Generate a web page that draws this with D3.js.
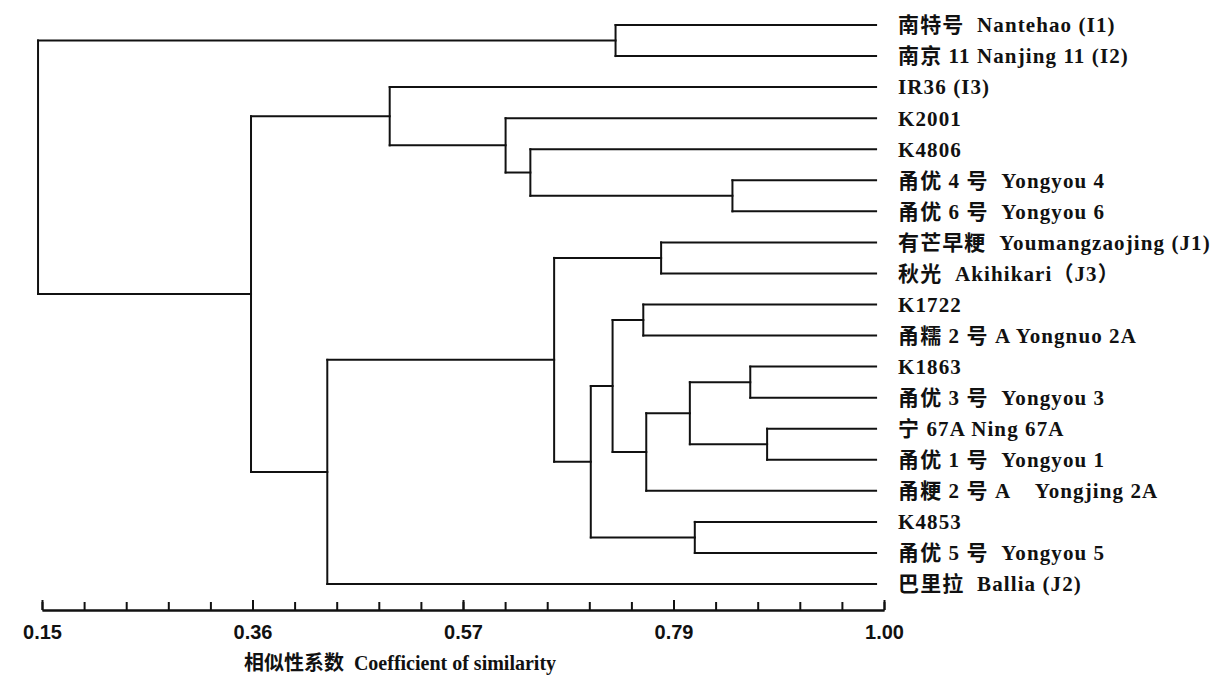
<!DOCTYPE html>
<html>
<head>
<meta charset="utf-8">
<script src="https://cdn.jsdelivr.net/npm/d3@7"></script>
<style>
  body { margin: 0; background: #fff; }
  svg { display: block; }
  .leaf-label { font-family: "Liberation Serif", "Noto Sans CJK SC", serif; font-size: 21px; font-weight: bold; fill: #111; white-space: pre; letter-spacing: 1.1px; }
  .tick text { font-family: "Liberation Sans", Arial, sans-serif; font-size: 20px; font-weight: bold; fill: #111; }
  .title { font-family: "Liberation Serif", "Noto Sans CJK SC", serif; font-size: 20px; font-weight: bold; fill: #111; white-space: pre; }
</style>
</head>
<body>
<div id="chart"></div>
<script>
'use strict'

// leaf labels, top to bottom
var leaves = [
  "南特号  Nantehao (I1)",
  "南京 11 Nanjing 11 (I2)",
  "IR36 (I3)",
  "K2001",
  "K4806",
  "甬优 4 号  Yongyou 4",
  "甬优 6 号  Yongyou 6",
  "有芒早粳  Youmangzaojing (J1)",
  "秋光  Akihikari（J3）",
  "K1722",
  "甬糯 2 号 A Yongnuo 2A",
  "K1863",
  "甬优 3 号  Yongyou 3",
  "宁 67A Ning 67A",
  "甬优 1 号  Yongyou 1",
  "甬粳 2 号 A    Yongjing 2A",
  "K4853",
  "甬优 5 号  Yongyou 5",
  "巴里拉  Ballia (J2)"
];

// merges: [a, b, similarity]. numbers = leaf index, "m#" = earlier merge
var merges = [
  [0, 1, 0.729],          // m0
  [5, 6, 0.847],          // m1
  [4, "m1", 0.643],       // m2
  [3, "m2", 0.618],       // m3
  [2, "m3", 0.501],       // m4
  [7, 8, 0.775],          // m5
  [9, 10, 0.757],         // m6
  [11, 12, 0.865],        // m7
  [13, 14, 0.882],        // m8
  ["m7", "m8", 0.804],    // m9
  ["m9", 15, 0.760],      // m10
  ["m6", "m10", 0.726],   // m11
  [16, 17, 0.809],        // m12
  ["m11", "m12", 0.704],  // m13
  ["m5", "m13", 0.667],   // m14
  ["m14", 18, 0.438],     // m15
  ["m4", "m15", 0.361],   // m16
  ["m0", "m16", 0.146]    // m17 (root)
];

// where leaf branches end
var leafSimilarity = 0.992;

// axis ticks
var majorTicks = [0.15, 0.3625, 0.575, 0.7875, 1.00];
var majorLabels = ["0.15", "0.36", "0.57", "0.79", "1.00"];
var minorTicks = d3.range(0, 21).map(function(i){ return 0.15 + i * 0.0425; });

var axisTitle = "相似性系数  Coefficient of similarity";

const width = 1215;
const height = 682;

var svg = d3.select('#chart').append('svg')
  .attr('width', width)
  .attr('height', height);

var xScale = d3.scaleLinear()
  .domain([0.15, 1.00])
  .range([42, 884]);

var yScale = d3.scalePoint()
  .domain(d3.range(leaves.length))
  .range([25, 584]);

// build the tree from the merge table
var built = {};
merges.forEach(function(m, i) {
  var kids = [m[0], m[1]].map(function(k){
    if (typeof k === 'number') return { leaf: k, sim: leafSimilarity };
    return built[k];
  });
  built['m' + i] = { sim: m[2], children: kids };
});
var root = d3.hierarchy(built['m' + (merges.length - 1)]);

root.eachAfter(function(node) {
  node.px = xScale(node.data.sim);
  if (node.children) {
    node.py = d3.mean(node.children, function(c){ return c.py; });
  } else {
    node.py = yScale(node.data.leaf);
  }
});

var tree = svg.append('g')
  .attr('fill', 'none')
  .attr('stroke', '#111')
  .attr('stroke-width', 2)
  .attr('stroke-linecap', 'square');

// elbow links
tree.selectAll('path')
  .data(root.links())
  .enter().append('path')
  .attr('d', function(d){
    return 'M' + d.source.px + ',' + d.target.py + 'H' + d.target.px;
  });

// vertical bars at each merge
tree.selectAll('line')
  .data(root.descendants().filter(function(d){ return d.children; }))
  .enter().append('line')
  .attr('x1', function(d){ return d.px; })
  .attr('x2', function(d){ return d.px; })
  .attr('y1', function(d){ return d3.min(d.children, function(c){ return c.py; }); })
  .attr('y2', function(d){ return d3.max(d.children, function(c){ return c.py; }); });

// leaf labels
svg.append('g').selectAll('text')
  .data(root.leaves())
  .enter().append('text')
  .attr('class', 'leaf-label')
  .attr('x', function(d){ return d.px + 22; })
  .attr('y', function(d){ return d.py; })
  .attr('dy', '0.35em')
  .text(function(d){ return leaves[d.data.leaf]; });

// axis
const axisY = 610;
var minorAxis = d3.axisBottom(xScale)
  .tickValues(minorTicks)
  .tickSizeInner(-8)
  .tickSizeOuter(0)
  .tickFormat('');
var majorAxis = d3.axisBottom(xScale)
  .tickValues(majorTicks)
  .tickSizeInner(-10)
  .tickSizeOuter(0)
  .tickPadding(22)
  .tickFormat(function(d, i){ return majorLabels[i]; });

var gMinor = svg.append('g').attr('transform', 'translate(0,' + axisY + ')').call(minorAxis);
var gMajor = svg.append('g').attr('transform', 'translate(0,' + axisY + ')').call(majorAxis);
[gMinor, gMajor].forEach(function(g){
  g.select('.domain').attr('stroke', '#111').attr('stroke-width', 2);
  g.selectAll('.tick line').attr('stroke', '#111').attr('stroke-width', 2);
});
gMajor.selectAll('.tick text').attr('dy', '0.35em');

svg.append('text')
  .attr('class', 'title')
  .attr('x', 400)
  .attr('y', 663)
  .attr('dy', '0.35em')
  .attr('text-anchor', 'middle')
  .text(axisTitle);
</script>
</body>
</html>
